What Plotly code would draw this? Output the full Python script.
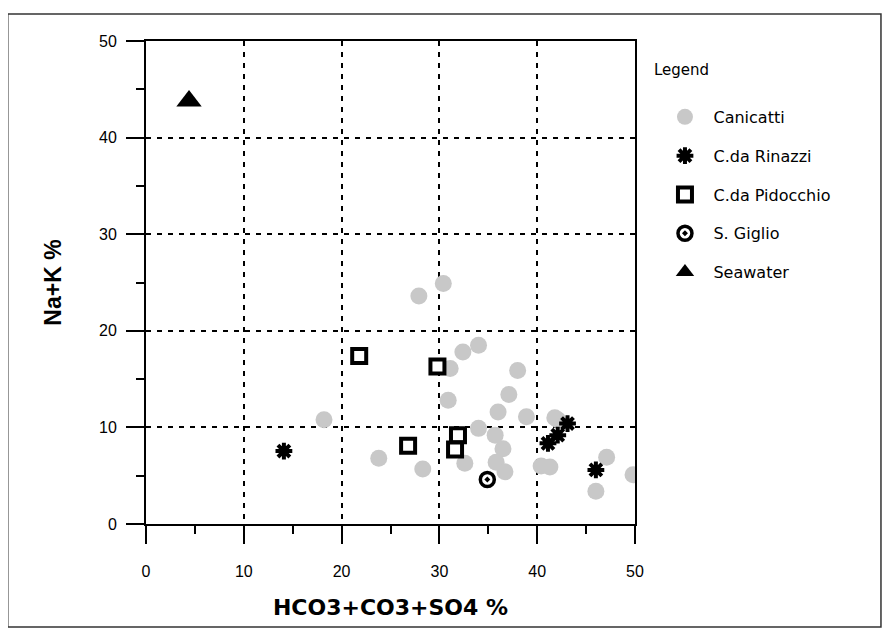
import plotly.graph_objects as go

# ---- data ----
canicatti_x = [30.4, 27.9, 34.0, 32.4, 31.1, 38.0, 30.9, 37.1, 36.0, 38.9, 42.1, 41.8,
               34.0, 35.7, 36.5, 35.8, 32.6, 36.7, 40.4, 41.3, 18.2, 23.8, 28.3,
               47.1, 46.0, 49.8]
canicatti_y = [24.9, 23.6, 18.5, 17.8, 16.1, 15.9, 12.8, 13.4, 11.6, 11.1, 10.8, 11.0,
               9.9, 9.2, 7.8, 6.4, 6.3, 5.4, 6.0, 5.9, 10.8, 6.8, 5.7,
               6.9, 3.4, 5.1]

rinazzi_x = [14.1, 41.1, 42.1, 43.1, 46.0]
rinazzi_y = [7.55, 8.35, 9.2, 10.4, 5.6]

pidocchio_x = [21.8, 29.8, 26.8, 31.9, 31.6]
pidocchio_y = [17.4, 16.3, 8.1, 9.2, 7.7]

giglio_x = [34.9]
giglio_y = [4.6]

seawater_x = [4.4]
seawater_y = [43.8]

tick_vals = [0, 10, 20, 30, 40, 50]
x_title = "HCO3+CO3+SO4 %"
y_title = "Na+K %"

FONT = "Liberation Sans, Arial, sans-serif"
LFONT = "DejaVu Sans, sans-serif"

fig = go.Figure()

fig.add_trace(go.Scatter(
    x=canicatti_x, y=canicatti_y, mode="markers", name="Canicatti", legendgroup="a",
    marker=dict(symbol="circle", size=17, color="#c8c8c8", line=dict(width=0))))
fig.add_trace(go.Scatter(
    x=rinazzi_x, y=rinazzi_y, mode="markers", name="C.da Rinazzi", legendgroup="b",
    marker=dict(symbol="asterisk", size=14, color="black", line=dict(color="black", width=4))))
fig.add_trace(go.Scatter(
    x=pidocchio_x, y=pidocchio_y, mode="markers", name="C.da Pidocchio", legendgroup="c",
    marker=dict(symbol="square", size=14, color="white", line=dict(color="black", width=4))))
fig.add_trace(go.Scatter(
    x=giglio_x, y=giglio_y, mode="markers", name="S. Giglio", legendgroup="d",
    marker=dict(symbol="circle-dot", size=14, color="white", line=dict(color="black", width=3.5))))
fig.add_trace(go.Scatter(
    x=seawater_x, y=seawater_y, mode="markers", name="Seawater", legendgroup="e",
    marker=dict(symbol="triangle-up", size=22, color="black", line=dict(width=0))))

axis_common = dict(
    range=[0, 50], tickvals=tick_vals, showline=True, linecolor="black", linewidth=2,
    mirror=True, ticks="outside", ticklen=18, tickwidth=2, tickcolor="black",
    showgrid=True, gridcolor="black", gridwidth=2, griddash="5px,6px",
    zeroline=False, tickfont=dict(family=FONT, size=16, color="black"),
    minor=dict(dtick=5, tick0=0, ticks="outside", ticklen=8, tickwidth=2,
               tickcolor="black", showgrid=False),
    automargin=False,
)

fig.update_xaxes(**axis_common, ticklabelstandoff=14,
                 title=dict(text=x_title,
                            font=dict(family="DejaVu Sans, sans-serif", size=22, color="black", weight="bold"),
                            standoff=20))
fig.update_yaxes(**axis_common, ticklabelstandoff=6,
                 title=dict(text=y_title,
                            font=dict(family=FONT, size=23, color="black", weight="bold"),
                            standoff=31))

# the page body adds an 8px offset, so the figure is 882x623 with margins compensated
fig.update_layout(
    width=882, height=623,
    margin=dict(l=137.5, r=254.5, t=33, b=107, autoexpand=False),
    plot_bgcolor="white", paper_bgcolor="white",
    showlegend=True,
    legend=dict(x=1.0439, y=0.878, xanchor="left", yanchor="top",
                font=dict(family=LFONT, size=16, color="black"),
                tracegroupgap=15, itemwidth=47, bgcolor="rgba(0,0,0,0)"),
    annotations=[dict(text="Legend", xref="paper", yref="paper", x=1.0357, y=0.94,
                      xanchor="left", yanchor="middle", showarrow=False,
                      font=dict(family=LFONT, size=15, color="black"))],
    shapes=[dict(type="rect", xref="paper", yref="paper", x0=-0.2827, x1=1.503,
                 y0=-0.213, y1=1.056, line=dict(color="#333333", width=1.5),
                 layer="below")],
)

fig.write_html("out.html")
